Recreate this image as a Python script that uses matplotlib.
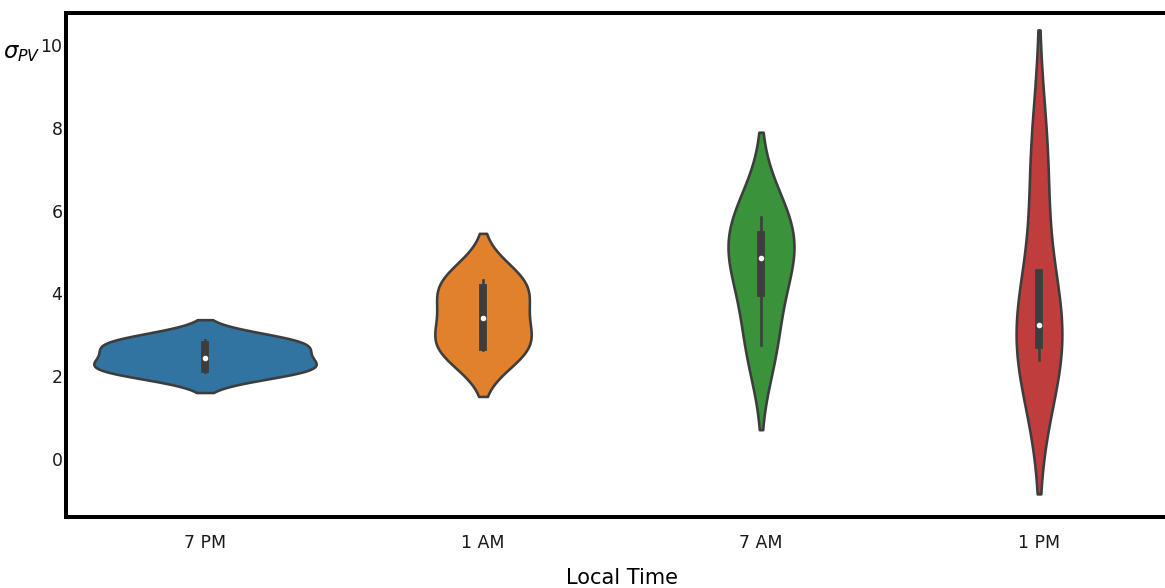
import matplotlib
matplotlib.use("Agg")
import matplotlib.pyplot as plt
import pandas as pd
import seaborn as sns

# Observed PV spread at each local time of day
times = ["7 PM", "1 AM", "7 AM", "1 PM"]
sigma_7pm = [2.10, 2.18, 2.45, 2.76, 2.87]
sigma_1am = [2.64, 2.71, 3.41, 4.13, 4.32]
sigma_7am = [2.75, 4.44, 5.26, 5.85]
sigma_1pm = [2.40, 2.87, 3.61, 7.12]
y_ticks = [0, 2, 4, 6, 8, 10]

groups = [sigma_7pm, sigma_1am, sigma_7am, sigma_1pm]
df = pd.DataFrame({
    "Local Time": [t for t, g in zip(times, groups) for _ in g],
    "sigma": [v for g in groups for v in g],
})

DPI = 125
fig = plt.figure(figsize=(1165 / DPI, 588 / DPI), dpi=DPI)
ax = fig.add_axes([66 / 1165, 71 / 588, 1112 / 1165, 504 / 588])

sns.violinplot(
    data=df, x="Local Time", y="sigma", hue="Local Time",
    order=times, hue_order=times, palette="tab10", legend=False,
    linewidth=1.5, inner="box", density_norm="area", common_norm=True,
    inner_kws=dict(box_width=4.5, whis_width=1.5, marker="o", markersize=2.6,
                   markeredgewidth=0.6),
    ax=ax,
)

ax.set_xlim(-0.5, 3.5)
ax.set_ylim(-1.40, 10.77)
ax.set_yticks(y_ticks)

for side in ["top", "bottom", "left", "right"]:
    ax.spines[side].set_linewidth(2.3)
    ax.spines[side].set_color("black")

ax.tick_params(axis="both", length=0, labelsize=10, labelcolor="#1a1a1a")
ax.tick_params(axis="x", pad=10)
ax.tick_params(axis="y", pad=2)

ax.set_xlabel("Local Time", fontsize=12, labelpad=9)
ax.set_ylabel(r"$\sigma_{PV}$", fontsize=13, rotation=0, ha="right", va="center")
ax.yaxis.set_label_coords(-0.023, 0.922)

fig.savefig("out.png", dpi=DPI)
